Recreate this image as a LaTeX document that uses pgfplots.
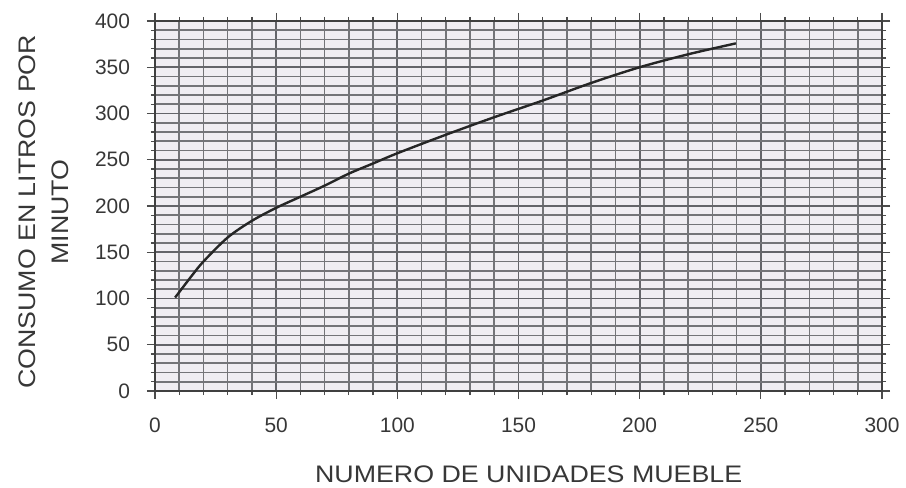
\documentclass[border=0pt]{standalone}
\usepackage{pgfplots}
\pgfplotsset{compat=1.18}
\usepackage{fontspec}
\setmainfont{Liberation Sans}
\newfontfamily\labelfont[FakeStretch=1.12]{Liberation Sans}
\definecolor{txt}{RGB}{55,55,55}
\definecolor{gridc}{RGB}{100,100,105}
\definecolor{bgc}{RGB}{240,237,242}
\begin{document}
\begin{tikzpicture}
\path[use as bounding box] (-77.5bp,-48.5bp) rectangle (375.5bp,195.5bp);
\begin{axis}[
  at={(0,0)}, anchor=south west,
  scale only axis, width=363.5bp, height=185bp,
  xmin=0, xmax=300, ymin=0, ymax=400,
  xtick={0,50,...,300}, ytick={0,50,...,400},
  minor x tick num=4, minor y tick num=4,
  grid=both,
  major grid style={gridc, line width=0.9bp},
  minor grid style={gridc!90, line width=0.8bp},
  axis line style={black!75, line width=0.9bp},
  tick style={black!70, line width=0.6bp},
  tick align=outside,
  major tick length=4bp, minor tick length=2bp,
  axis background/.style={fill=bgc},
  ticklabel style={font=\fontsize{10.5}{12}\selectfont, text=txt},
  /pgf/number format/assume math mode=true,
  xticklabel style={yshift=-6bp},
  yticklabel style={xshift=-5bp},
  xlabel={NUMERO DE UNIDADES MUEBLE},
  ylabel={CONSUMO EN LITROS POR\\MINUTO},
  label style={font=\labelfont\fontsize{12}{16.5}\selectfont, text=txt},
  xlabel style={at={(axis description cs:0.514,0)}, anchor=center, yshift=-41.5bp},
  ylabel style={at={(axis description cs:-0.1534,0.484)}, anchor=center, align=center},
]
\addplot[black!85, line width=1.2bp, smooth, tension=0.5] coordinates {
 (8.3,101) (15,124) (20,140) (30,166) (40,184) (50,198) (60,210)
 (70,222) (80,235) (90,246) (100,257) (120,277) (140,296) (160,314)
 (180,333) (200,350) (220,364) (239.7,375.8)
};
\end{axis}
\end{tikzpicture}
\end{document}
